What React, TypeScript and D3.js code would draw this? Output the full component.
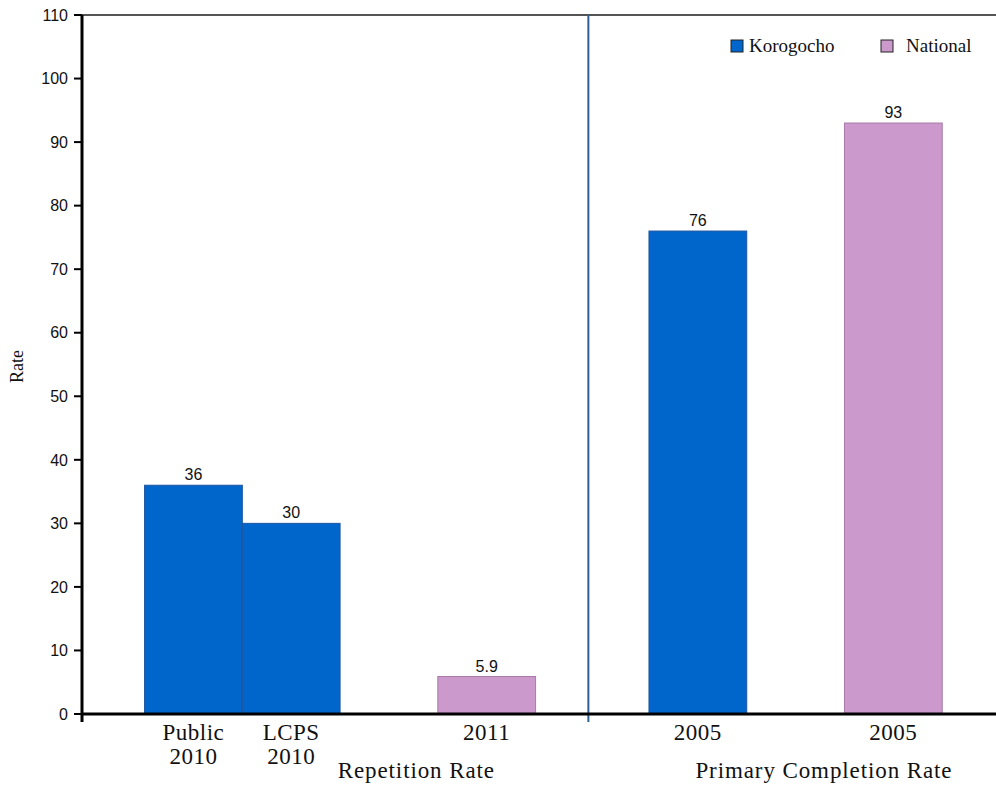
import React from "react";
import * as d3 from "d3";

// Chart data
const categories = ["Public\n2010", "LCPS\n2010", "2011", "2005", "2005"];
const series = ["Korogocho", "Korogocho", "National", "Korogocho", "National"];
const values = [36, 30, 5.9, 76, 93];
const valueLabels = ["36", "30", "5.9", "76", "93"];
const groups = ["Repetition Rate", "Primary Completion Rate"];
const yTicks = [0, 10, 20, 30, 40, 50, 60, 70, 80, 90, 100, 110];
const legendItems = ["Korogocho", "National"];

// Layout (slot units, one unit = one bar width)
const SLOT_CENTER = [1.14, 2.14, 4.14, 6.3, 8.3];
const GROUP_CENTER = [3.42, 7.59];
const DIVIDER = 5.18;
const X_MAX = 9.35;

const W = 996;
const H = 786;
const LEFT = 82;
const TOP = 15;
const BOTTOM = 714;

const COLORS: Record<string, { fill: string; stroke: string }> = {
  Korogocho: { fill: "#0066CC", stroke: "#1d55a0" },
  National: { fill: "#CC99CC", stroke: "#a77aa7" },
};

const SERIF = "'Liberation Serif', 'Times New Roman', serif";
const SANS = "'Liberation Sans', Arial, sans-serif";

export default function App() {
  const x = d3.scaleLinear().domain([0, X_MAX]).range([LEFT, W]);
  const y = d3.scaleLinear().domain([0, 110]).range([BOTTOM, TOP]);
  const bw = x(1) - x(0);

  return (
    <svg
      width={W}
      height={H}
      style={{ position: "absolute", left: 0, top: 0, background: "#fff" }}
    >
      {/* top frame line */}
      <line x1={LEFT - 8} x2={W} y1={y(110)} y2={y(110)} stroke="#555" strokeWidth={2} />

      {/* bars */}
      {values.map((v, i) => {
        const c = COLORS[series[i]];
        return (
          <rect
            key={i}
            x={x(SLOT_CENTER[i]) - bw / 2}
            y={y(v)}
            width={bw}
            height={y(0) - y(v)}
            fill={c.fill}
            stroke={c.stroke}
            strokeWidth={1}
          />
        );
      })}

      {/* value labels */}
      {values.map((v, i) => (
        <text
          key={i}
          x={x(SLOT_CENTER[i])}
          y={y(v) - 5}
          textAnchor="middle"
          fontFamily={SANS}
          fontSize={16}
          fill="#111"
        >
          {valueLabels[i]}
        </text>
      ))}

      {/* divider between groups */}
      <line
        x1={x(DIVIDER)}
        x2={x(DIVIDER)}
        y1={y(110)}
        y2={y(0) + 8}
        stroke="#2f6096"
        strokeWidth={2}
      />

      {/* y axis */}
      <line x1={LEFT} x2={LEFT} y1={y(110)} y2={y(0) + 8} stroke="#000" strokeWidth={3} />
      {yTicks.map((t) => (
        <g key={t}>
          <line x1={LEFT - 8} x2={LEFT} y1={y(t)} y2={y(t)} stroke="#000" strokeWidth={2} />
          <text
            x={LEFT - 14}
            y={y(t)}
            dy="0.36em"
            textAnchor="end"
            fontFamily={SANS}
            fontSize={16}
            fill="#111"
          >
            {t}
          </text>
        </g>
      ))}

      {/* x axis */}
      <line x1={LEFT} x2={W} y1={y(0)} y2={y(0)} stroke="#000" strokeWidth={3} />

      {/* category labels */}
      {categories.map((c, i) =>
        c.split("\n").map((line, j) => (
          <text
            key={i + "-" + j}
            x={x(SLOT_CENTER[i])}
            y={y(0) + 26 + j * 24}
            textAnchor="middle"
            fontFamily={SERIF}
            fontSize={23}
            letterSpacing={0.5}
            fill="#111"
          >
            {line}
          </text>
        ))
      )}

      {/* group labels */}
      {groups.map((g, i) => (
        <text
          key={g}
          x={x(GROUP_CENTER[i])}
          y={y(0) + 64}
          textAnchor="middle"
          fontFamily={SERIF}
          fontSize={23}
          letterSpacing={0.9}
          fill="#111"
        >
          {g}
        </text>
      ))}

      {/* y axis title */}
      <text
        transform={`translate(23, ${(y(0) + y(110)) / 2 + 2}) rotate(-90)`}
        textAnchor="middle"
        fontFamily={SERIF}
        fontSize={18}
        fill="#111"
      >
        Rate
      </text>

      {/* legend */}
      {legendItems.map((s, i) => {
        const lx = [731, 881][i];
        return (
          <g key={s}>
            <rect
              x={lx}
              y={40}
              width={12}
              height={12}
              fill={COLORS[s].fill}
              stroke="#222"
              strokeWidth={1}
            />
            <text
              x={lx + 18 + i * 7}
              y={52}
              fontFamily={SERIF}
              fontSize={19}
              fill="#111"
            >
              {s}
            </text>
          </g>
        );
      })}
    </svg>
  );
}
